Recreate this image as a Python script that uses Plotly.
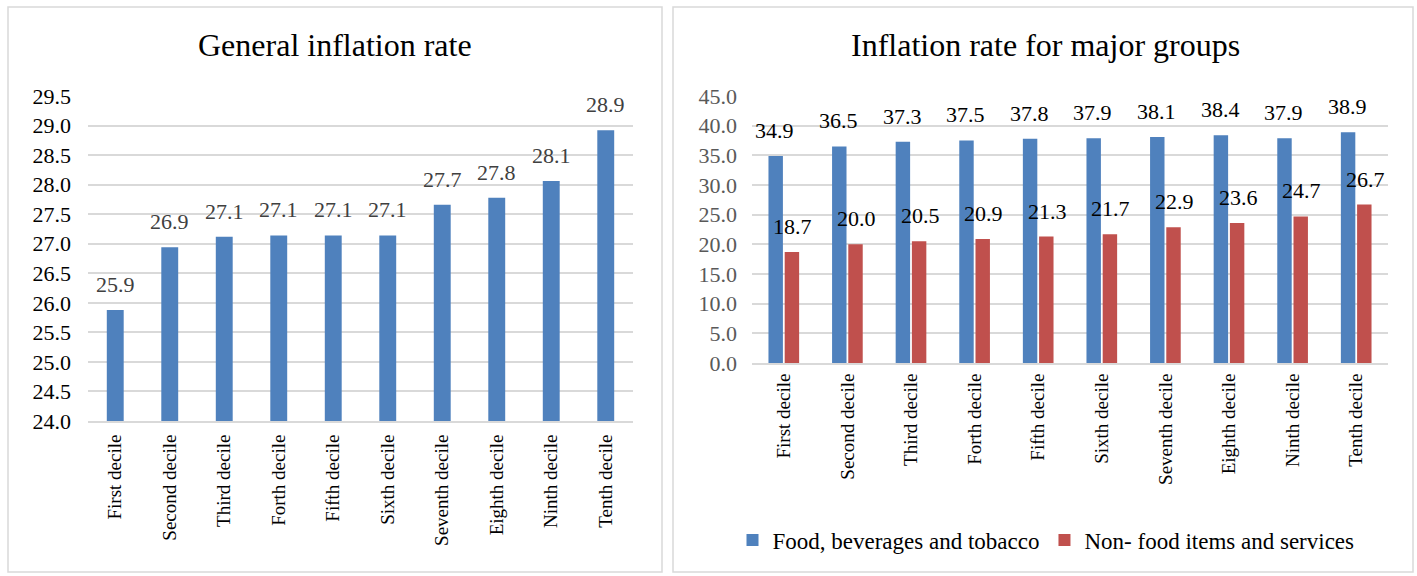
import plotly.graph_objects as go

W, H = 1417, 576

categories = ["First decile", "Second decile", "Third decile", "Forth decile", "Fifth decile",
              "Sixth decile", "Seventh decile", "Eighth decile", "Ninth decile", "Tenth decile"]
general_rate = [25.88, 26.94, 27.12, 27.14, 27.14, 27.14, 27.66, 27.78, 28.06, 28.92]
food_rate = [34.9, 36.5, 37.3, 37.5, 37.8, 37.9, 38.1, 38.4, 37.9, 38.9]
nonfood_rate = [18.7, 20.0, 20.5, 20.9, 21.3, 21.7, 22.9, 23.6, 24.7, 26.7]
left_ticks = [24.0, 24.5, 25.0, 25.5, 26.0, 26.5, 27.0, 27.5, 28.0, 28.5, 29.0, 29.5]
right_ticks = [0, 5, 10, 15, 20, 25, 30, 35, 40, 45]

BLUE = "#4f81bd"
RED = "#c0504d"
GRID = "#d9d9d9"
FONT = "Liberation Serif"


def px_x(p):
    return p / W


def px_y(p):
    return (H - p) / H


fig = go.Figure()

fig.add_trace(go.Bar(x=categories, y=general_rate, marker_color=BLUE, width=0.31,
                     xaxis="x", yaxis="y", showlegend=False, hoverinfo="x+y"))
fig.add_trace(go.Bar(x=categories, y=food_rate, marker_color=BLUE, name="Food, beverages and tobacco",
                     xaxis="x2", yaxis="y2"))
fig.add_trace(go.Bar(x=categories, y=nonfood_rate, marker_color=RED, name="Non- food items and services",
                     xaxis="x2", yaxis="y2"))

annotations = []
for c, v in zip(categories, general_rate):
    annotations.append(dict(x=c, y=v, xref="x", yref="y", text=f"{v:.1f}", showarrow=False,
                            yanchor="bottom", yshift=11, font=dict(family=FONT, size=22, color="#404040")))
for c, v in zip(categories, food_rate):
    annotations.append(dict(x=c, y=v, xref="x2", yref="y2", text=f"{v:.1f}", showarrow=False,
                            yanchor="bottom", yshift=11, xshift=-9, font=dict(family=FONT, size=22, color="#000000")))
for c, v in zip(categories, nonfood_rate):
    annotations.append(dict(x=c, y=v, xref="x2", yref="y2", text=f"{v:.1f}", showarrow=False,
                            yanchor="bottom", yshift=11, xshift=9, font=dict(family=FONT, size=22, color="#000000")))

annotations.append(dict(x=px_x(335), y=px_y(45), xref="paper", yref="paper", text="General inflation rate",
                        showarrow=False, xanchor="center", yanchor="middle",
                        font=dict(family=FONT, size=32, color="#000000")))
annotations.append(dict(x=px_x(1045), y=px_y(45), xref="paper", yref="paper", text="Inflation rate for major groups",
                        showarrow=False, xanchor="center", yanchor="middle",
                        font=dict(family=FONT, size=32, color="#000000")))

shapes = [
    dict(type="rect", xref="paper", yref="paper", x0=px_x(8), x1=px_x(662), y0=px_y(572), y1=px_y(7),
         line=dict(color=GRID, width=1.5), fillcolor="rgba(0,0,0,0)"),
    dict(type="rect", xref="paper", yref="paper", x0=px_x(673), x1=px_x(1413), y0=px_y(572), y1=px_y(7),
         line=dict(color=GRID, width=1.5), fillcolor="rgba(0,0,0,0)"),
]

cat_font = dict(family=FONT, size=19, color="#000000")

fig.update_layout(
    template="none",
    width=W, height=H,
    margin=dict(l=0, r=0, t=0, b=0, pad=0),
    paper_bgcolor="white", plot_bgcolor="white",
    barmode="group", bargap=0.49, bargroupgap=0.11,
    annotations=annotations, shapes=shapes,
    xaxis=dict(domain=[px_x(88), px_x(633)], anchor="y", type="category", tickangle=-90,
               tickfont=cat_font, showline=True, linecolor=GRID, linewidth=2, showgrid=False,
               ticks="", ticklabelstandoff=4, automargin=False, fixedrange=True),
    yaxis=dict(domain=[px_y(421), px_y(96)], anchor="x", range=[24, 29.5], tickvals=left_ticks,
               ticktext=[f"{t:.1f}" for t in left_ticks], tickfont=dict(family=FONT, size=22, color="#000000"),
               showgrid=True, gridcolor=GRID, gridwidth=1.5, zeroline=False, ticks="",
               ticklabelstandoff=16, showline=False, automargin=False, fixedrange=True),
    xaxis2=dict(domain=[px_x(752), px_x(1388)], anchor="y2", type="category", tickangle=-90,
                tickfont=cat_font, showline=True, linecolor=GRID, linewidth=2, showgrid=False,
                ticks="", ticklabelstandoff=1, automargin=False, fixedrange=True),
    yaxis2=dict(domain=[px_y(363), px_y(96)], anchor="x2", range=[0, 45], tickvals=right_ticks,
                ticktext=[f"{t:.1f}" for t in right_ticks], tickfont=dict(family=FONT, size=22, color="#595959"),
                showgrid=True, gridcolor=GRID, gridwidth=1.5, zeroline=False, ticks="",
                ticklabelstandoff=14, showline=False, automargin=False, fixedrange=True),
    legend=dict(orientation="h", x=px_x(1046), xanchor="center", y=px_y(540), yanchor="middle",
                font=dict(family=FONT, size=23, color="#000000"), itemwidth=30, traceorder="normal",
                bgcolor="rgba(0,0,0,0)"),
    showlegend=True,
)

fig.write_html("out.html", config={"displayModeBar": False},
               post_script="document.body.style.margin='0px';")
